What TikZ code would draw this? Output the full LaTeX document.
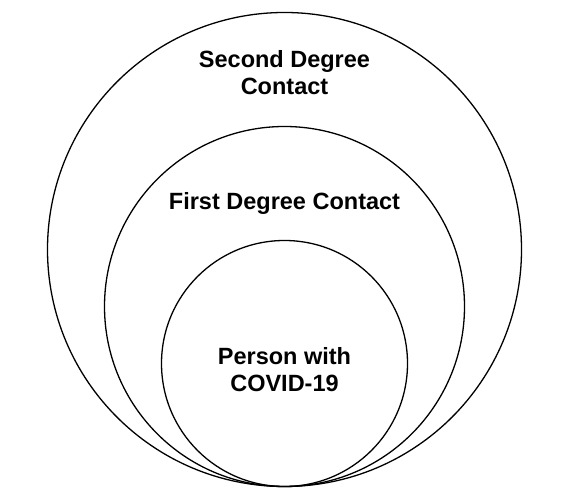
\documentclass[tikz,border=0pt]{standalone}
\usepackage{fontspec}
\setmainfont{Liberation Sans}
\usetikzlibrary{positioning}

\begin{document}
\begin{tikzpicture}[x=1pt, y=1pt, ring/.style={draw, circle, line width=1.3pt, inner sep=0pt}, tag/.style={font=\fontsize{23.5}{27.5}\selectfont\bfseries, align=center, inner sep=0pt}]
    \useasboundingbox (0,0) rectangle (580,497);

    \node[ring, minimum size=474pt] (second) at (284.5,247.5) {};
    \node[ring, minimum size=360pt, anchor=south] (first) at (second.south) {};
    \node[ring, minimum size=246pt, anchor=south] (patient) at (second.south) {};

    \node[tag] (secondtxt) [below=38pt of second.north] {Second Degree\\Contact};
    \node[tag] (firsttxt) [below=66pt of first.north] {First Degree Contact};
    \node[tag] (patienttxt) [below=107pt of patient.north] {Person with\\COVID-19};

\end{tikzpicture}
\end{document}
